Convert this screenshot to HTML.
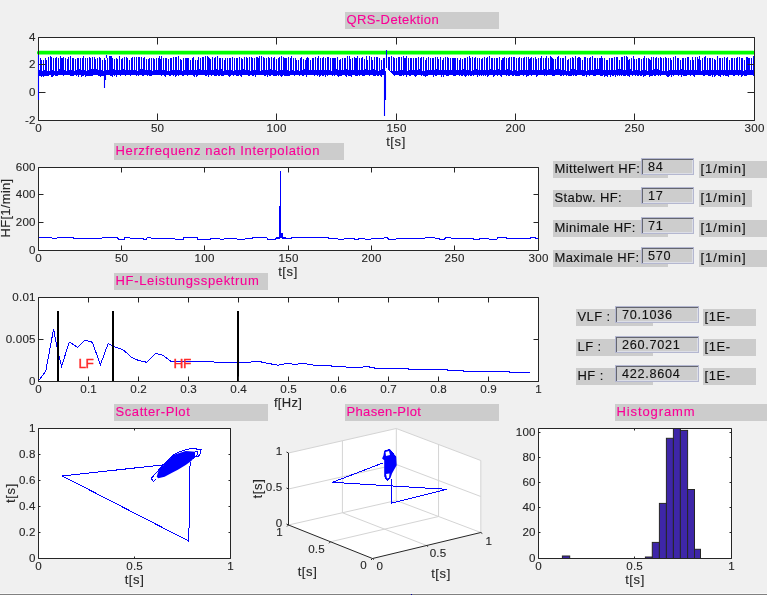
<!DOCTYPE html>
<html><head><meta charset="utf-8"><style>
html,body{margin:0;padding:0;width:767px;height:595px;overflow:hidden;background:#f0f0f0}
svg text{font-family:"Liberation Sans", sans-serif}
svg{will-change:transform}
</style></head><body>
<svg width="767" height="595" viewBox="0 0 767 595" style="position:absolute;left:0;top:0;font-family:'Liberation Sans', sans-serif">
<rect width="767" height="595" fill="#f0f0f0"/>
<rect x="0" y="593" width="767" height="1" fill="#f8f8f8"/>
<rect x="0" y="594" width="767" height="1" fill="#808080"/>
<rect x="345" y="12" width="154" height="17" fill="#cccccc"/>
<text x="346.5" y="24" font-size="13" letter-spacing="0.4" fill="#fa0096" stroke="#fa0096" stroke-width="0.12">QRS-Detektion</text>
<rect x="114" y="143" width="230" height="17" fill="#cccccc"/>
<text x="115.5" y="155" font-size="13" letter-spacing="0.63" fill="#fa0096" stroke="#fa0096" stroke-width="0.12">Herzfrequenz nach Interpolation</text>
<rect x="114" y="273" width="154" height="17" fill="#cccccc"/>
<text x="115.5" y="285" font-size="13" letter-spacing="0.66" fill="#fa0096" stroke="#fa0096" stroke-width="0.12">HF-Leistungsspektrum</text>
<rect x="114" y="404" width="154" height="17" fill="#cccccc"/>
<text x="115.5" y="416" font-size="13" letter-spacing="0.58" fill="#fa0096" stroke="#fa0096" stroke-width="0.12">Scatter-Plot</text>
<rect x="345" y="404" width="154" height="17" fill="#cccccc"/>
<text x="346.5" y="416" font-size="13" letter-spacing="0.35" fill="#fa0096" stroke="#fa0096" stroke-width="0.12">Phasen-Plot</text>
<rect x="615" y="404" width="152" height="17" fill="#cccccc"/>
<text x="616.5" y="416" font-size="13" letter-spacing="0.9" fill="#fa0096" stroke="#fa0096" stroke-width="0.12">Histogramm</text>
<rect x="38" y="37" width="716" height="83" fill="#fff"/>
<rect x="37" y="50.8" width="718" height="3.8" rx="1.5" fill="#00ff00"/>
<path d="M39.5 70V76M40.5 58V76M41.5 60V77M42.5 71V76M43.5 60V77M44.5 70V76M45.5 58V76M46.5 60V76M47.5 71V76M48.5 57V76M49.5 71V75M50.5 56V75M51.5 57V77M52.5 70V77M53.5 58V76M54.5 71V75M55.5 58V76M56.5 57V76M57.5 71V76M58.5 58V75M59.5 69V75M60.5 56V75M61.5 58V75M62.5 58V75M63.5 57V76M64.5 70V75M65.5 58V75M66.5 71V75M67.5 59V75M68.5 57V75M69.5 70V75M70.5 56V76M71.5 70V76M72.5 58V76M73.5 58V76M74.5 71V75M75.5 59V75M76.5 70V76M77.5 58V75M78.5 58V77M79.5 69V75M80.5 58V75M81.5 70V77M82.5 58V76M83.5 56V76M84.5 70V75M85.5 58V77M86.5 71V76M87.5 58V76M88.5 70V76M89.5 57V76M90.5 58V76M91.5 69V76M92.5 57V76M93.5 69V75M94.5 57V75M95.5 59V75M96.5 69V75M97.5 58V75M98.5 70V76M99.5 57V76M100.5 58V77M101.5 70V76M102.5 60V76M103.5 71V76M104.5 58V76M105.5 60V75M106.5 70V75M107.5 58V75M108.5 70V75M109.5 56V75M110.5 56V76M111.5 56V76M112.5 58V77M113.5 69V75M114.5 59V76M115.5 70V75M116.5 58V77M117.5 59V75M118.5 70V75M119.5 56V75M120.5 70V76M121.5 59V75M122.5 58V75M123.5 69V75M124.5 57V75M125.5 70V76M126.5 57V75M127.5 58V75M128.5 70V75M129.5 60V75M130.5 70V76M131.5 58V75M132.5 57V75M133.5 70V75M134.5 57V75M135.5 70V75M136.5 57V76M137.5 71V75M138.5 57V76M139.5 57V75M140.5 69V75M141.5 57V75M142.5 69V76M143.5 58V76M144.5 57V75M145.5 70V75M146.5 59V75M147.5 70V76M148.5 59V75M149.5 58V76M150.5 70V76M151.5 58V76M152.5 71V75M153.5 58V75M154.5 59V75M155.5 70V75M156.5 58V75M157.5 70V75M158.5 58V75M159.5 56V75M160.5 59V75M161.5 56V76M162.5 70V75M163.5 58V75M164.5 70V76M165.5 58V77M166.5 58V75M167.5 71V75M168.5 59V75M169.5 71V76M170.5 58V76M171.5 58V75M172.5 70V75M173.5 57V76M174.5 70V75M175.5 57V77M176.5 57V76M177.5 70V75M178.5 56V76M179.5 70V75M180.5 59V75M181.5 60V75M182.5 71V76M183.5 58V76M184.5 70V75M185.5 58V75M186.5 58V75M187.5 58V76M188.5 58V75M189.5 70V75M190.5 60V75M191.5 70V75M192.5 58V75M193.5 57V76M194.5 70V77M195.5 60V75M196.5 70V77M197.5 60V76M198.5 57V75M199.5 69V75M200.5 58V75M201.5 70V75M202.5 57V75M203.5 57V75M204.5 70V75M205.5 56V76M206.5 70V76M207.5 56V75M208.5 57V77M209.5 58V75M210.5 59V75M211.5 70V76M212.5 57V75M213.5 70V75M214.5 58V76M215.5 57V76M216.5 69V76M217.5 56V75M218.5 70V76M219.5 58V76M220.5 58V75M221.5 69V76M222.5 58V76M223.5 71V76M224.5 60V75M225.5 58V75M226.5 70V75M227.5 58V75M228.5 70V76M229.5 58V77M230.5 58V76M231.5 70V75M232.5 57V75M233.5 71V76M234.5 58V75M235.5 70V75M236.5 58V76M237.5 58V76M238.5 70V76M239.5 57V75M240.5 70V76M241.5 58V77M242.5 59V75M243.5 69V75M244.5 57V75M245.5 70V75M246.5 57V75M247.5 58V75M248.5 70V76M249.5 57V76M250.5 71V75M251.5 57V75M252.5 58V76M253.5 70V76M254.5 58V75M255.5 70V77M256.5 57V75M257.5 57V75M258.5 58V75M259.5 56V75M260.5 71V75M261.5 56V75M262.5 70V75M263.5 57V75M264.5 58V76M265.5 70V76M266.5 58V75M267.5 70V77M268.5 57V75M269.5 58V76M270.5 69V76M271.5 57V75M272.5 70V75M273.5 58V76M274.5 57V76M275.5 70V76M276.5 59V76M277.5 71V75M278.5 58V76M279.5 57V75M280.5 70V76M281.5 56V77M282.5 70V76M283.5 57V75M284.5 58V76M285.5 58V76M286.5 58V76M287.5 70V76M288.5 57V76M289.5 71V76M290.5 58V75M291.5 56V75M292.5 70V75M293.5 58V75M294.5 71V76M295.5 58V75M296.5 60V75M297.5 70V75M298.5 60V75M299.5 71V76M300.5 58V75M301.5 57V75M302.5 70V76M303.5 59V76M304.5 69V75M305.5 60V75M306.5 58V77M307.5 57V75M308.5 58V75M309.5 70V75M310.5 60V75M311.5 70V75M312.5 58V75M313.5 58V75M314.5 70V76M315.5 57V75M316.5 70V75M317.5 58V76M318.5 56V75M319.5 70V77M320.5 58V76M321.5 70V75M322.5 58V76M323.5 57V76M324.5 70V75M325.5 58V77M326.5 70V75M327.5 57V76M328.5 57V75M329.5 70V75M330.5 58V75M331.5 71V75M332.5 58V76M333.5 58V75M334.5 58V76M335.5 58V75M336.5 69V75M337.5 57V76M338.5 70V77M339.5 60V76M340.5 59V76M341.5 70V76M342.5 58V75M343.5 70V75M344.5 58V75M345.5 58V76M346.5 69V77M347.5 56V75M348.5 70V76M349.5 56V76M350.5 59V76M351.5 70V77M352.5 58V75M353.5 70V75M354.5 57V75M355.5 58V76M356.5 58V76M357.5 56V76M358.5 70V75M359.5 58V76M360.5 70V75M361.5 58V75M362.5 57V76M363.5 70V76M364.5 59V76M365.5 69V75M366.5 56V75M367.5 60V75M368.5 70V75M369.5 56V76M370.5 70V75M371.5 57V75M372.5 60V75M373.5 69V76M374.5 57V76M375.5 70V76M376.5 57V75M377.5 57V76M378.5 71V76M379.5 58V75M380.5 70V76M381.5 60V77M382.5 69V75M383.5 58V75M384.5 58V75M385.5 71V76M386.5 58V68M388.5 57V70M389.5 57V71M390.5 71V72M391.5 56V73M392.5 71V74M393.5 57V75M394.5 58V76M395.5 71V75M396.5 58V75M397.5 71V75M398.5 57V75M399.5 57V76M400.5 70V76M401.5 57V76M402.5 70V75M403.5 56V76M404.5 58V75M405.5 58V75M406.5 56V77M407.5 71V75M408.5 58V75M409.5 70V76M410.5 58V76M411.5 58V75M412.5 70V75M413.5 58V75M414.5 70V76M415.5 58V77M416.5 58V76M417.5 70V75M418.5 57V75M419.5 69V75M420.5 58V75M421.5 57V76M422.5 71V75M423.5 57V76M424.5 71V76M425.5 60V77M426.5 58V76M427.5 70V76M428.5 57V75M429.5 70V75M430.5 58V75M431.5 70V75M432.5 58V75M433.5 58V77M434.5 70V75M435.5 57V76M436.5 69V76M437.5 57V75M438.5 59V75M439.5 70V75M440.5 57V75M441.5 70V77M442.5 60V75M443.5 58V77M444.5 70V75M445.5 57V75M446.5 70V76M447.5 57V76M448.5 58V76M449.5 70V75M450.5 58V75M451.5 70V75M452.5 58V75M453.5 58V76M454.5 58V76M455.5 58V76M456.5 70V75M457.5 58V75M458.5 70V75M459.5 60V76M460.5 58V75M461.5 70V76M462.5 59V76M463.5 69V75M464.5 58V76M465.5 58V77M466.5 70V76M467.5 57V75M468.5 70V76M469.5 56V75M470.5 58V76M471.5 71V76M472.5 57V75M473.5 70V76M474.5 58V75M475.5 57V75M476.5 69V75M477.5 58V77M478.5 70V75M479.5 58V76M480.5 70V75M481.5 59V76M482.5 58V75M483.5 70V76M484.5 57V75M485.5 70V76M486.5 58V75M487.5 57V77M488.5 70V76M489.5 56V75M490.5 69V75M491.5 58V75M492.5 58V75M493.5 70V77M494.5 58V76M495.5 70V75M496.5 58V75M497.5 58V76M498.5 69V75M499.5 57V75M500.5 70V76M501.5 60V77M502.5 58V75M503.5 58V75M504.5 57V75M505.5 70V75M506.5 58V76M507.5 69V75M508.5 58V76M509.5 57V76M510.5 70V75M511.5 57V75M512.5 71V76M513.5 57V76M514.5 57V75M515.5 70V76M516.5 58V76M517.5 71V76M518.5 58V76M519.5 57V76M520.5 70V75M521.5 58V75M522.5 70V75M523.5 58V76M524.5 57V75M525.5 70V75M526.5 57V77M527.5 70V76M528.5 57V76M529.5 59V75M530.5 58V75M531.5 57V76M532.5 70V75M533.5 58V75M534.5 70V75M535.5 57V75M536.5 59V77M537.5 70V76M538.5 58V75M539.5 70V75M540.5 58V75M541.5 56V75M542.5 70V75M543.5 58V75M544.5 69V76M545.5 58V75M546.5 56V76M547.5 70V75M548.5 58V75M549.5 69V75M550.5 56V75M551.5 57V75M552.5 58V76M553.5 59V76M554.5 70V76M555.5 59V75M556.5 69V75M557.5 57V75M558.5 56V75M559.5 69V75M560.5 58V76M561.5 70V76M562.5 58V75M563.5 58V76M564.5 70V75M565.5 56V75M566.5 71V76M567.5 60V75M568.5 59V76M569.5 71V76M570.5 58V76M571.5 69V76M572.5 57V75M573.5 58V76M574.5 69V75M575.5 56V76M576.5 70V76M577.5 58V75M578.5 57V75M579.5 57V75M580.5 58V75M581.5 70V75M582.5 60V76M583.5 70V76M584.5 57V76M585.5 57V75M586.5 71V77M587.5 58V75M588.5 70V75M589.5 58V76M590.5 57V75M591.5 70V75M592.5 56V75M593.5 70V76M594.5 58V76M595.5 58V76M596.5 69V75M597.5 58V75M598.5 69V75M599.5 58V75M600.5 58V76M601.5 56V76M602.5 58V76M603.5 70V75M604.5 58V77M605.5 70V76M606.5 60V76M607.5 60V77M608.5 70V75M609.5 58V75M610.5 70V77M611.5 58V75M612.5 58V76M613.5 70V76M614.5 57V75M615.5 70V77M616.5 57V75M617.5 57V76M618.5 69V75M619.5 60V76M620.5 69V75M621.5 57V76M622.5 57V75M623.5 70V76M624.5 56V76M625.5 70V76M626.5 56V75M627.5 57V76M628.5 60V76M629.5 59V77M630.5 69V75M631.5 58V75M632.5 71V76M633.5 56V75M634.5 59V75M635.5 70V76M636.5 59V75M637.5 70V76M638.5 58V76M639.5 58V75M640.5 71V76M641.5 59V76M642.5 70V75M643.5 58V77M644.5 56V76M645.5 70V76M646.5 58V75M647.5 71V75M648.5 58V75M649.5 59V77M650.5 60V76M651.5 57V76M652.5 70V76M653.5 57V75M654.5 69V76M655.5 58V76M656.5 57V75M657.5 69V75M658.5 58V76M659.5 70V75M660.5 57V76M661.5 58V75M662.5 71V75M663.5 58V75M664.5 71V75M665.5 57V75M666.5 58V76M667.5 71V77M668.5 58V77M669.5 70V76M670.5 58V75M671.5 60V77M672.5 70V75M673.5 57V76M674.5 70V75M675.5 56V75M676.5 70V75M677.5 58V75M678.5 58V76M679.5 70V75M680.5 60V75M681.5 69V77M682.5 58V75M683.5 58V76M684.5 70V76M685.5 58V76M686.5 70V76M687.5 57V75M688.5 57V75M689.5 70V75M690.5 60V76M691.5 70V75M692.5 57V75M693.5 60V76M694.5 70V77M695.5 57V75M696.5 70V75M697.5 57V75M698.5 59V75M699.5 56V75M700.5 60V75M701.5 71V75M702.5 58V75M703.5 70V76M704.5 57V76M705.5 56V75M706.5 70V75M707.5 58V75M708.5 70V76M709.5 58V76M710.5 58V76M711.5 70V75M712.5 58V77M713.5 70V75M714.5 59V77M715.5 60V76M716.5 70V75M717.5 56V75M718.5 70V76M719.5 58V76M720.5 58V77M721.5 70V75M722.5 58V75M723.5 70V76M724.5 57V75M725.5 70V76M726.5 58V76M727.5 57V76M728.5 70V77M729.5 60V75M730.5 70V75M731.5 58V75M732.5 58V75M733.5 70V76M734.5 58V76M735.5 70V75M736.5 58V75M737.5 57V75M738.5 70V76M739.5 57V75M740.5 70V75M741.5 58V77M742.5 58V76M743.5 71V75M744.5 60V76M745.5 70V76M746.5 57V76M747.5 57V75M748.5 58V75M749.5 58V75M750.5 70V75M751.5 58V75M752.5 70V75M753.5 56V76" stroke="#0000ff" stroke-width="1" fill="none"/>
<path d="M38.5 55V100M104.5 75V88M105.5 75V80M106.5 55V58M384.5 75V116M385.5 75V100M386.5 50V60" stroke="#0000ff" stroke-width="1.1" fill="none"/>
<path d="M38.5 37.5H754.5V120.5H38.5ZM38.5 120.5v-7M38.5 37.5v7M157.5 120.5v-7M157.5 37.5v7M276.5 120.5v-7M276.5 37.5v7M396.5 120.5v-7M396.5 37.5v7M515.5 120.5v-7M515.5 37.5v7M634.5 120.5v-7M634.5 37.5v7M754.5 120.5v-7M754.5 37.5v7M38.5 120.5h7M754.5 120.5h-7M38.5 92.5h7M754.5 92.5h-7M38.5 64.5h7M754.5 64.5h-7M38.5 37.5h7M754.5 37.5h-7" fill="none" stroke="#262626" stroke-width="1"/>
<path d="M38.5 55V100" stroke="#0000ff" stroke-width="1" fill="none"/>
<text x="38.6" y="132" font-size="11.6" text-anchor="middle" letter-spacing="0.2" fill="#262626" stroke="#262626" stroke-width="0.12">0</text>
<text x="157.6" y="132" font-size="11.6" text-anchor="middle" letter-spacing="0.2" fill="#262626" stroke="#262626" stroke-width="0.12">50</text>
<text x="276.6" y="132" font-size="11.6" text-anchor="middle" letter-spacing="0.2" fill="#262626" stroke="#262626" stroke-width="0.12">100</text>
<text x="396.6" y="132" font-size="11.6" text-anchor="middle" letter-spacing="0.2" fill="#262626" stroke="#262626" stroke-width="0.12">150</text>
<text x="515.6" y="132" font-size="11.6" text-anchor="middle" letter-spacing="0.2" fill="#262626" stroke="#262626" stroke-width="0.12">200</text>
<text x="634.6" y="132" font-size="11.6" text-anchor="middle" letter-spacing="0.2" fill="#262626" stroke="#262626" stroke-width="0.12">250</text>
<text x="754.6" y="132" font-size="11.6" text-anchor="middle" letter-spacing="0.2" fill="#262626" stroke="#262626" stroke-width="0.12">300</text>
<text x="35.7" y="123.5" font-size="11.6" text-anchor="end" letter-spacing="0.2" fill="#262626" stroke="#262626" stroke-width="0.12">-2</text>
<text x="35.7" y="95.5" font-size="11.6" text-anchor="end" letter-spacing="0.2" fill="#262626" stroke="#262626" stroke-width="0.12">0</text>
<text x="35.7" y="67.5" font-size="11.6" text-anchor="end" letter-spacing="0.2" fill="#262626" stroke="#262626" stroke-width="0.12">2</text>
<text x="35.7" y="40.5" font-size="11.6" text-anchor="end" letter-spacing="0.2" fill="#262626" stroke="#262626" stroke-width="0.12">4</text>
<text x="396" y="145.5" font-size="13" text-anchor="middle" letter-spacing="0.6" fill="#262626" stroke="#262626" stroke-width="0.12">t[s]</text>
<rect x="38" y="167" width="500" height="83" fill="#fff"/>
<path d="M38.5 237.5 42.5 237.5 43.3 237.5 51.3 237.5 52.1 238 57.1 238 57.9 237.5 63.9 237.5 64.7 237 72.7 237 73.5 238 81.5 238 82.3 238 88.3 238 89.1 238.5 97.1 238.5 97.9 238 101.9 238 102.7 237 108.7 237 109.5 237.5 117.5 237.5 118.3 239 124.3 239 125.1 237 129.1 237 129.9 238 133.9 238 134.7 238.5 142.7 238.5 143.5 239 146.5 239 147.3 237 150.3 237 151.1 238 159.1 238 159.9 238 164.9 238 165.7 238.5 168.7 238.5 169.5 238.5 174.5 238.5 175.3 239 183.3 239 184.1 237 190.1 237 190.9 237 196.9 237 197.7 239 205.7 239 206.5 239 210.5 239 211.3 238.5 214.3 238.5 215.1 238 219.1 238 219.9 239 223.9 239 224.7 238.5 230.7 238.5 231.5 238.5 236.5 238.5 237.3 239 245.3 239 246.1 238.5 252.1 238.5 252.9 237.5 257.9 237.5 258.7 237.5 266.7 237.5 267.5 239 275.5 239 276.3 238 282.1 237 285.1 237 285.9 238.5 290.9 238.5 291.7 237.5 295.7 237.5 296.5 237 301.5 237 302.3 237.5 310.3 237.5 311.1 237.5 314.1 237.5 314.9 237 318.9 237 319.7 237 327.7 237 328.5 238.5 333.5 238.5 334.3 238 337.3 238 338.1 239 344.1 239 344.9 238 349.9 238 350.7 238.5 353.7 238.5 354.5 239 358.5 239 359.3 238 364.3 238 365.1 239 371.1 239 371.9 238.5 374.9 238.5 375.7 238 383.7 238 384.5 237.5 387.5 237.5 388.3 239 396.3 239 397.1 238.5 405.1 238.5 405.9 238.5 413.9 238.5 414.7 238 417.7 238 418.5 238.5 421.5 238.5 422.3 238 425.3 238 426.1 237.5 434.1 237.5 434.9 238 438.9 238 439.7 239 444.7 239 445.5 237.5 450.5 237.5 451.3 238 454.3 238 455.1 238.5 460.1 238.5 460.9 238.5 465.9 238.5 466.7 238 472.7 238 473.5 239 479.5 239 480.3 238.5 488.3 238.5 489.1 239 497.1 239 497.9 237 505.9 237 506.7 238 514.7 238 515.5 238.5 523.5 238.5 524.3 238.5 530.3 238.5 531.1 237 535.1 237 535.9 238.5 538 238.5 538.8 238.5" stroke="#0000ff" stroke-width="1" fill="none" shape-rendering="crispEdges"/>
<path d="M277 238.5L279.5 238.5L279.5 206L280 238.5L280.5 171.5L281 238L282 233L283 238.5L290 238.5" stroke="#0000ff" stroke-width="1" fill="none" shape-rendering="crispEdges"/>
<path d="M38.5 167.5H538.5V250.5H38.5ZM38.5 250.5v-5M38.5 167.5v5M121.5 250.5v-5M121.5 167.5v5M204.5 250.5v-5M204.5 167.5v5M288.5 250.5v-5M288.5 167.5v5M371.5 250.5v-5M371.5 167.5v5M454.5 250.5v-5M454.5 167.5v5M538.5 250.5v-5M538.5 167.5v5M38.5 250.5h5M538.5 250.5h-5M38.5 222.5h5M538.5 222.5h-5M38.5 194.5h5M538.5 194.5h-5M38.5 167.5h5M538.5 167.5h-5" fill="none" stroke="#262626" stroke-width="1"/>
<text x="38.6" y="262" font-size="11.6" text-anchor="middle" letter-spacing="0.2" fill="#262626" stroke="#262626" stroke-width="0.12">0</text>
<text x="121.6" y="262" font-size="11.6" text-anchor="middle" letter-spacing="0.2" fill="#262626" stroke="#262626" stroke-width="0.12">50</text>
<text x="204.6" y="262" font-size="11.6" text-anchor="middle" letter-spacing="0.2" fill="#262626" stroke="#262626" stroke-width="0.12">100</text>
<text x="288.6" y="262" font-size="11.6" text-anchor="middle" letter-spacing="0.2" fill="#262626" stroke="#262626" stroke-width="0.12">150</text>
<text x="371.6" y="262" font-size="11.6" text-anchor="middle" letter-spacing="0.2" fill="#262626" stroke="#262626" stroke-width="0.12">200</text>
<text x="454.6" y="262" font-size="11.6" text-anchor="middle" letter-spacing="0.2" fill="#262626" stroke="#262626" stroke-width="0.12">250</text>
<text x="538.6" y="262" font-size="11.6" text-anchor="middle" letter-spacing="0.2" fill="#262626" stroke="#262626" stroke-width="0.12">300</text>
<text x="35.7" y="253.5" font-size="11.6" text-anchor="end" letter-spacing="0.2" fill="#262626" stroke="#262626" stroke-width="0.12">0</text>
<text x="35.7" y="225.5" font-size="11.6" text-anchor="end" letter-spacing="0.2" fill="#262626" stroke="#262626" stroke-width="0.12">200</text>
<text x="35.7" y="197.5" font-size="11.6" text-anchor="end" letter-spacing="0.2" fill="#262626" stroke="#262626" stroke-width="0.12">400</text>
<text x="35.7" y="170.5" font-size="11.6" text-anchor="end" letter-spacing="0.2" fill="#262626" stroke="#262626" stroke-width="0.12">600</text>
<text x="288" y="275.5" font-size="13" text-anchor="middle" letter-spacing="0.6" fill="#262626" stroke="#262626" stroke-width="0.12">t[s]</text>
<text x="10" y="208" font-size="13" text-anchor="middle" letter-spacing="0.3" fill="#262626" transform="rotate(-90 10 208)" stroke="#262626" stroke-width="0.12">HF[1/min]</text>
<rect x="38" y="297" width="500" height="84" fill="#fff"/>
<path d="M38.5 381 45.8 371 53.6 329 56.7 346 61.5 366.5 69.3 342 77.7 347.4 85 340 92.4 342.3 100.4 364.8 108.2 343.4 113.4 346.3 120.8 349 124 350.5 131.6 357.5 138.9 360.6 146.9 362.3 155.7 353.3 163 355.4 170.4 361 210.3 361 215.6 362.3 246 362.8 256.8 361 265.2 362.8 277.8 365.2 288.3 363.3 294.6 364.5 303 363.3 315.6 365.4 330.3 365.4 332.4 366.5 345 366.5 347 367.3 361.8 367.3 366 366.3 376.5 368.4 408.9 368.4 408.9 369.4 447.7 369.4 447.7 370.5 463 370.5 463 371.3 509.7 371.3 509.7 372.3 529.6 372.3" stroke="#0000ff" stroke-width="1" fill="none" shape-rendering="crispEdges"/>
<path d="M58 311V381M113 311V381M238 311V381" stroke="#000" stroke-width="2" fill="none"/>
<text x="78.5" y="368" font-size="13.6" letter-spacing="-0.6" fill="#ff2a2a" stroke="#ff2a2a" stroke-width="0.4">LF</text>
<text x="173.5" y="368" font-size="13.6" letter-spacing="-0.4" fill="#ff2a2a" stroke="#ff2a2a" stroke-width="0.4">HF</text>
<path d="M38.5 297.5H538.5V381.5H38.5ZM38.5 381.5v-5M38.5 297.5v5M88.5 381.5v-5M88.5 297.5v5M138.5 381.5v-5M138.5 297.5v5M188.5 381.5v-5M188.5 297.5v5M238.5 381.5v-5M238.5 297.5v5M288.5 381.5v-5M288.5 297.5v5M338.5 381.5v-5M338.5 297.5v5M388.5 381.5v-5M388.5 297.5v5M438.5 381.5v-5M438.5 297.5v5M488.5 381.5v-5M488.5 297.5v5M538.5 381.5v-5M538.5 297.5v5M38.5 381.5h5M538.5 381.5h-5M38.5 339.5h5M538.5 339.5h-5M38.5 297.5h5M538.5 297.5h-5" fill="none" stroke="#262626" stroke-width="1"/>
<text x="38.6" y="393" font-size="11.6" text-anchor="middle" letter-spacing="0.2" fill="#262626" stroke="#262626" stroke-width="0.12">0</text>
<text x="88.6" y="393" font-size="11.6" text-anchor="middle" letter-spacing="0.2" fill="#262626" stroke="#262626" stroke-width="0.12">0.1</text>
<text x="138.6" y="393" font-size="11.6" text-anchor="middle" letter-spacing="0.2" fill="#262626" stroke="#262626" stroke-width="0.12">0.2</text>
<text x="188.6" y="393" font-size="11.6" text-anchor="middle" letter-spacing="0.2" fill="#262626" stroke="#262626" stroke-width="0.12">0.3</text>
<text x="238.6" y="393" font-size="11.6" text-anchor="middle" letter-spacing="0.2" fill="#262626" stroke="#262626" stroke-width="0.12">0.4</text>
<text x="288.6" y="393" font-size="11.6" text-anchor="middle" letter-spacing="0.2" fill="#262626" stroke="#262626" stroke-width="0.12">0.5</text>
<text x="338.6" y="393" font-size="11.6" text-anchor="middle" letter-spacing="0.2" fill="#262626" stroke="#262626" stroke-width="0.12">0.6</text>
<text x="388.6" y="393" font-size="11.6" text-anchor="middle" letter-spacing="0.2" fill="#262626" stroke="#262626" stroke-width="0.12">0.7</text>
<text x="438.6" y="393" font-size="11.6" text-anchor="middle" letter-spacing="0.2" fill="#262626" stroke="#262626" stroke-width="0.12">0.8</text>
<text x="488.6" y="393" font-size="11.6" text-anchor="middle" letter-spacing="0.2" fill="#262626" stroke="#262626" stroke-width="0.12">0.9</text>
<text x="538.6" y="393" font-size="11.6" text-anchor="middle" letter-spacing="0.2" fill="#262626" stroke="#262626" stroke-width="0.12">1</text>
<text x="35.7" y="384.5" font-size="11.6" text-anchor="end" letter-spacing="0.2" fill="#262626" stroke="#262626" stroke-width="0.12">0</text>
<text x="35.7" y="342.5" font-size="11.6" text-anchor="end" letter-spacing="0.2" fill="#262626" stroke="#262626" stroke-width="0.12">0.005</text>
<text x="35.7" y="300.5" font-size="11.6" text-anchor="end" letter-spacing="0.2" fill="#262626" stroke="#262626" stroke-width="0.12">0.01</text>
<text x="288" y="406.5" font-size="13" text-anchor="middle" letter-spacing="0.3" fill="#262626" stroke="#262626" stroke-width="0.12">f[Hz]</text>
<rect x="38" y="428" width="192" height="130" fill="#fff"/>
<path d="M165.3 464.6L62.4 476L188.6 541L189.3 520L189.6 477L190.2 462" stroke="#0000ff" stroke-width="1" fill="none" shape-rendering="crispEdges"/>
<path d="M156.7 476.8L158.3 471.3L161.4 467.4L166.9 461.1L174.7 454.5L185.7 451L195 451.7L195 456.8L191.2 461.1L185.7 465L177.9 469.7L171.6 472.9L164.6 476.8L158.3 478.3Z" fill="#0000ff"/>
<path d="M151.3 478.3L157.5 471.3L166.9 461L174.7 454L181.8 451L192 448.2L201 449.8L199.8 454.9L197.4 456.8M151.3 478.3L153.2 481.5L156 479.1M195 451.5L198 452L196.5 456L193 459" stroke="#0000ff" stroke-width="1" fill="none" shape-rendering="crispEdges"/>
<path d="M38.5 428.5H230.5V558.5H38.5ZM38.5 558.5v-2M38.5 428.5v2M134.5 558.5v-2M134.5 428.5v2M230.5 558.5v-2M230.5 428.5v2M38.5 558.5h2M230.5 558.5h-2M38.5 532.5h2M230.5 532.5h-2M38.5 506.5h2M230.5 506.5h-2M38.5 480.5h2M230.5 480.5h-2M38.5 454.5h2M230.5 454.5h-2M38.5 428.5h2M230.5 428.5h-2" fill="none" stroke="#262626" stroke-width="1"/>
<text x="38.6" y="570" font-size="11.6" text-anchor="middle" letter-spacing="0.2" fill="#262626" stroke="#262626" stroke-width="0.12">0</text>
<text x="134.6" y="570" font-size="11.6" text-anchor="middle" letter-spacing="0.2" fill="#262626" stroke="#262626" stroke-width="0.12">0.5</text>
<text x="230.6" y="570" font-size="11.6" text-anchor="middle" letter-spacing="0.2" fill="#262626" stroke="#262626" stroke-width="0.12">1</text>
<text x="35.7" y="561.5" font-size="11.6" text-anchor="end" letter-spacing="0.2" fill="#262626" stroke="#262626" stroke-width="0.12">0</text>
<text x="35.7" y="535.5" font-size="11.6" text-anchor="end" letter-spacing="0.2" fill="#262626" stroke="#262626" stroke-width="0.12">0.2</text>
<text x="35.7" y="509.5" font-size="11.6" text-anchor="end" letter-spacing="0.2" fill="#262626" stroke="#262626" stroke-width="0.12">0.4</text>
<text x="35.7" y="483.5" font-size="11.6" text-anchor="end" letter-spacing="0.2" fill="#262626" stroke="#262626" stroke-width="0.12">0.6</text>
<text x="35.7" y="457.5" font-size="11.6" text-anchor="end" letter-spacing="0.2" fill="#262626" stroke="#262626" stroke-width="0.12">0.8</text>
<text x="35.7" y="431.5" font-size="11.6" text-anchor="end" letter-spacing="0.2" fill="#262626" stroke="#262626" stroke-width="0.12">1</text>
<text x="134.5" y="584" font-size="13" text-anchor="middle" letter-spacing="0.6" fill="#262626" stroke="#262626" stroke-width="0.12">t[s]</text>
<text x="14.8" y="493" font-size="13" text-anchor="middle" letter-spacing="0.6" fill="#262626" transform="rotate(-90 14.8 493)" stroke="#262626" stroke-width="0.12">t[s]</text>
<rect x="538" y="428" width="193" height="130" fill="#fff"/>
<g fill="#3e26a8" stroke="#262626" stroke-width="1"><rect x="562.4" y="556" width="7.3" height="2.5"/><rect x="645.4" y="557" width="6.9" height="1.5"/><rect x="652.3" y="542.4" width="7.1" height="16.1"/><rect x="659.4" y="503.4" width="7" height="55.1"/><rect x="666.4" y="438.3" width="7" height="120.2"/><rect x="673.4" y="428.5" width="7" height="130"/><rect x="680.4" y="430.4" width="7.2" height="128.1"/><rect x="687.6" y="489.5" width="6.9" height="69"/><rect x="694.5" y="549.3" width="6" height="9.2"/></g>
<path d="M538.5 428.5H731.5V558.5H538.5ZM538.5 558.5v-2M538.5 428.5v2M634.5 558.5v-2M634.5 428.5v2M731.5 558.5v-2M731.5 428.5v2M538.5 558.5h2M731.5 558.5h-2M538.5 532.5h2M731.5 532.5h-2M538.5 507.5h2M731.5 507.5h-2M538.5 482.5h2M731.5 482.5h-2M538.5 457.5h2M731.5 457.5h-2M538.5 432.5h2M731.5 432.5h-2" fill="none" stroke="#262626" stroke-width="1"/>
<text x="538.6" y="570" font-size="11.6" text-anchor="middle" letter-spacing="0.2" fill="#262626" stroke="#262626" stroke-width="0.12">0</text>
<text x="634.6" y="570" font-size="11.6" text-anchor="middle" letter-spacing="0.2" fill="#262626" stroke="#262626" stroke-width="0.12">0.5</text>
<text x="731.6" y="570" font-size="11.6" text-anchor="middle" letter-spacing="0.2" fill="#262626" stroke="#262626" stroke-width="0.12">1</text>
<text x="535.7" y="561.5" font-size="11.6" text-anchor="end" letter-spacing="0.2" fill="#262626" stroke="#262626" stroke-width="0.12">0</text>
<text x="535.7" y="535.5" font-size="11.6" text-anchor="end" letter-spacing="0.2" fill="#262626" stroke="#262626" stroke-width="0.12">20</text>
<text x="535.7" y="510.5" font-size="11.6" text-anchor="end" letter-spacing="0.2" fill="#262626" stroke="#262626" stroke-width="0.12">40</text>
<text x="535.7" y="485.5" font-size="11.6" text-anchor="end" letter-spacing="0.2" fill="#262626" stroke="#262626" stroke-width="0.12">60</text>
<text x="535.7" y="460.5" font-size="11.6" text-anchor="end" letter-spacing="0.2" fill="#262626" stroke="#262626" stroke-width="0.12">80</text>
<text x="535.7" y="435.5" font-size="11.6" text-anchor="end" letter-spacing="0.2" fill="#262626" stroke="#262626" stroke-width="0.12">100</text>
<text x="635" y="584" font-size="13" text-anchor="middle" letter-spacing="0.6" fill="#262626" stroke="#262626" stroke-width="0.12">t[s]</text>
<path d="M288.5 453 L396.3 428.5 L480.8 460.5 L480.8 532.5 L372.5 558.5 L288.5 525 Z" fill="#fff"/>
<path d="M288.5 453L396.3 428.5M396.3 428.5L480.8 460.5M396.3 500.5L396.3 428.5M480.8 532.5L480.8 460.5M288.5 525L396.3 500.5M396.3 500.5L480.8 532.5M342.4 512.75L342.4 440.75M438.55 516.5L438.55 444.5M288.5 489L396.3 464.5M396.3 464.5L480.8 496.5M330.5 541.75L438.55 516.5M426.65 545.5L342.4 512.75" stroke="#d4d4d4" stroke-width="1" fill="none"/>
<path d="M288.5 453L288.5 525L372.5 558.5L480.8 532.5M288.5 453l-2 -1M288.5 489l-2 -1M288.5 525l-2 -1M288.5 525l-1.5 1.5M330.5 541.75l-1.5 1.5M372.5 558.5l-1.5 1.5M372.5 558.5l1.5 1M426.6 545.5l1.5 1M480.8 532.5l1.5 1" stroke="#262626" stroke-width="1" fill="none"/>
<path d="M382.8 463L332.4 482.3L446.5 489.3L391.7 503L391.7 478.6" stroke="#0000ff" stroke-width="1" fill="none" shape-rendering="crispEdges"/>
<path d="M384.2 450.7L389.8 448.9L396.2 456.7L396.7 465.2L395.5 467.3L392 473.6L390.5 477.9L387.3 480.7L384.2 476.5L384.2 460.2L382.1 458.5L383.5 455.3Z" fill="#0000ff"/>
<path d="M385.5 452L389 451L390 455L386 456Z M386 474L389.5 473.5L389 478L387 478.5Z" fill="#ffffff"/>
<path d="M384.7 451.2L389.6 449.4L395.8 456.9M384.7 476.5L387.3 480.2L390.2 477.6" stroke="#0000ff" stroke-width="1" fill="none" shape-rendering="crispEdges"/>
<text x="282.5" y="455" font-size="11.6" text-anchor="end" letter-spacing="0.2" fill="#262626" stroke="#262626" stroke-width="0.12">1</text>
<text x="282.5" y="491" font-size="11.6" text-anchor="end" letter-spacing="0.2" fill="#262626" stroke="#262626" stroke-width="0.12">0.5</text>
<text x="282.5" y="527" font-size="11.6" text-anchor="end" letter-spacing="0.2" fill="#262626" stroke="#262626" stroke-width="0.12">0</text>
<text x="283" y="536" font-size="11.6" text-anchor="end" letter-spacing="0.2" fill="#262626" stroke="#262626" stroke-width="0.12">1</text>
<text x="316.5" y="553" font-size="11.6" text-anchor="middle" letter-spacing="0.2" fill="#262626" stroke="#262626" stroke-width="0.12">0.5</text>
<text x="367" y="569" font-size="11.6" text-anchor="end" letter-spacing="0.2" fill="#262626" stroke="#262626" stroke-width="0.12">0</text>
<text x="376.5" y="570" font-size="11.6" letter-spacing="0.2" fill="#262626" stroke="#262626" stroke-width="0.12">0</text>
<text x="438" y="557" font-size="11.6" text-anchor="middle" letter-spacing="0.2" fill="#262626" stroke="#262626" stroke-width="0.12">0.5</text>
<text x="485.5" y="545" font-size="11.6" letter-spacing="0.2" fill="#262626" stroke="#262626" stroke-width="0.12">1</text>
<text x="307.5" y="576.3" font-size="13" text-anchor="middle" letter-spacing="0.6" fill="#262626" stroke="#262626" stroke-width="0.12">t[s]</text>
<text x="441" y="577.5" font-size="13" text-anchor="middle" letter-spacing="0.6" fill="#262626" stroke="#262626" stroke-width="0.12">t[s]</text>
<text x="261.5" y="488.5" font-size="13" text-anchor="middle" letter-spacing="0.6" fill="#262626" transform="rotate(-90 261.5 488.5)" stroke="#262626" stroke-width="0.12">t[s]</text>
<rect x="411" y="594" width="1" height="1" fill="#0000aa"/>
<rect x="553" y="161" width="115" height="17" fill="#cccccc"/>
<text x="554.5" y="173.3" font-size="13" letter-spacing="0.4" fill="#111" stroke="#111" stroke-width="0.12">Mittelwert HF:</text>
<rect x="641" y="158" width="53" height="17" fill="#b4b7d0"/>
<rect x="642" y="159" width="51" height="15" fill="#dcdee6"/>
<rect x="642" y="159" width="51" height="1" fill="#64666f"/>
<rect x="642" y="159" width="1" height="15" fill="#64666f"/>
<rect x="643" y="160" width="49" height="13" fill="#cdcdcd"/>
<text x="648" y="171" font-size="12.7" letter-spacing="0.7" fill="#111" stroke="#111" stroke-width="0.12">84</text>
<rect x="699" y="161" width="68" height="17" fill="#cccccc"/>
<text x="700.5" y="173.3" font-size="13" letter-spacing="1" fill="#111" stroke="#111" stroke-width="0.12">[1/min]</text>
<rect x="553" y="190" width="115" height="17" fill="#cccccc"/>
<text x="554.5" y="202.3" font-size="13" letter-spacing="0.4" fill="#111" stroke="#111" stroke-width="0.12">Stabw. HF:</text>
<rect x="641" y="187" width="53" height="17" fill="#b4b7d0"/>
<rect x="642" y="188" width="51" height="15" fill="#dcdee6"/>
<rect x="642" y="188" width="51" height="1" fill="#64666f"/>
<rect x="642" y="188" width="1" height="15" fill="#64666f"/>
<rect x="643" y="189" width="49" height="13" fill="#cdcdcd"/>
<text x="648" y="200" font-size="12.7" letter-spacing="0.7" fill="#111" stroke="#111" stroke-width="0.12">17</text>
<rect x="699" y="190" width="53" height="17" fill="#cccccc"/>
<text x="700.5" y="202.3" font-size="13" letter-spacing="1" fill="#111" stroke="#111" stroke-width="0.12">[1/min]</text>
<rect x="553" y="220" width="115" height="17" fill="#cccccc"/>
<text x="554.5" y="232.3" font-size="13" letter-spacing="0.4" fill="#111" stroke="#111" stroke-width="0.12">Minimale HF:</text>
<rect x="641" y="217" width="53" height="17" fill="#b4b7d0"/>
<rect x="642" y="218" width="51" height="15" fill="#dcdee6"/>
<rect x="642" y="218" width="51" height="1" fill="#64666f"/>
<rect x="642" y="218" width="1" height="15" fill="#64666f"/>
<rect x="643" y="219" width="49" height="13" fill="#cdcdcd"/>
<text x="648" y="230" font-size="12.7" letter-spacing="0.7" fill="#111" stroke="#111" stroke-width="0.12">71</text>
<rect x="699" y="220" width="68" height="17" fill="#cccccc"/>
<text x="700.5" y="232.3" font-size="13" letter-spacing="1" fill="#111" stroke="#111" stroke-width="0.12">[1/min]</text>
<rect x="553" y="250" width="115" height="17" fill="#cccccc"/>
<text x="554.5" y="262.3" font-size="13" letter-spacing="0.4" fill="#111" stroke="#111" stroke-width="0.12">Maximale HF:</text>
<rect x="641" y="247" width="53" height="17" fill="#b4b7d0"/>
<rect x="642" y="248" width="51" height="15" fill="#dcdee6"/>
<rect x="642" y="248" width="51" height="1" fill="#64666f"/>
<rect x="642" y="248" width="1" height="15" fill="#64666f"/>
<rect x="643" y="249" width="49" height="13" fill="#cdcdcd"/>
<text x="648" y="260" font-size="12.7" letter-spacing="0.7" fill="#111" stroke="#111" stroke-width="0.12">570</text>
<rect x="699" y="250" width="68" height="17" fill="#cccccc"/>
<text x="700.5" y="262.3" font-size="13" letter-spacing="1" fill="#111" stroke="#111" stroke-width="0.12">[1/min]</text>
<rect x="576" y="309" width="77" height="17" fill="#cccccc"/>
<text x="577.5" y="321.3" font-size="13" letter-spacing="0.4" fill="#111" stroke="#111" stroke-width="0.12">VLF :</text>
<rect x="615" y="306" width="84" height="17" fill="#b4b7d0"/>
<rect x="616" y="307" width="82" height="15" fill="#dcdee6"/>
<rect x="616" y="307" width="82" height="1" fill="#64666f"/>
<rect x="616" y="307" width="1" height="15" fill="#64666f"/>
<rect x="617" y="308" width="80" height="13" fill="#cdcdcd"/>
<text x="622" y="319" font-size="12.7" letter-spacing="0.7" fill="#111" stroke="#111" stroke-width="0.12">70.1036</text>
<rect x="703" y="309" width="53" height="17" fill="#cccccc"/>
<text x="704.5" y="321.3" font-size="13" letter-spacing="0.6" fill="#111" stroke="#111" stroke-width="0.12">[1E-</text>
<rect x="576" y="339" width="77" height="17" fill="#cccccc"/>
<text x="577.5" y="351.3" font-size="13" letter-spacing="0.4" fill="#111" stroke="#111" stroke-width="0.12">LF :</text>
<rect x="615" y="336" width="84" height="17" fill="#b4b7d0"/>
<rect x="616" y="337" width="82" height="15" fill="#dcdee6"/>
<rect x="616" y="337" width="82" height="1" fill="#64666f"/>
<rect x="616" y="337" width="1" height="15" fill="#64666f"/>
<rect x="617" y="338" width="80" height="13" fill="#cdcdcd"/>
<text x="622" y="349" font-size="12.7" letter-spacing="0.7" fill="#111" stroke="#111" stroke-width="0.12">260.7021</text>
<rect x="703" y="339" width="53" height="17" fill="#cccccc"/>
<text x="704.5" y="351.3" font-size="13" letter-spacing="0.6" fill="#111" stroke="#111" stroke-width="0.12">[1E-</text>
<rect x="576" y="368" width="77" height="17" fill="#cccccc"/>
<text x="577.5" y="380.3" font-size="13" letter-spacing="0.4" fill="#111" stroke="#111" stroke-width="0.12">HF :</text>
<rect x="615" y="365" width="84" height="17" fill="#b4b7d0"/>
<rect x="616" y="366" width="82" height="15" fill="#dcdee6"/>
<rect x="616" y="366" width="82" height="1" fill="#64666f"/>
<rect x="616" y="366" width="1" height="15" fill="#64666f"/>
<rect x="617" y="367" width="80" height="13" fill="#cdcdcd"/>
<text x="622" y="378" font-size="12.7" letter-spacing="0.7" fill="#111" stroke="#111" stroke-width="0.12">422.8604</text>
<rect x="703" y="368" width="53" height="17" fill="#cccccc"/>
<text x="704.5" y="380.3" font-size="13" letter-spacing="0.6" fill="#111" stroke="#111" stroke-width="0.12">[1E-</text>
</svg>
</body></html>
